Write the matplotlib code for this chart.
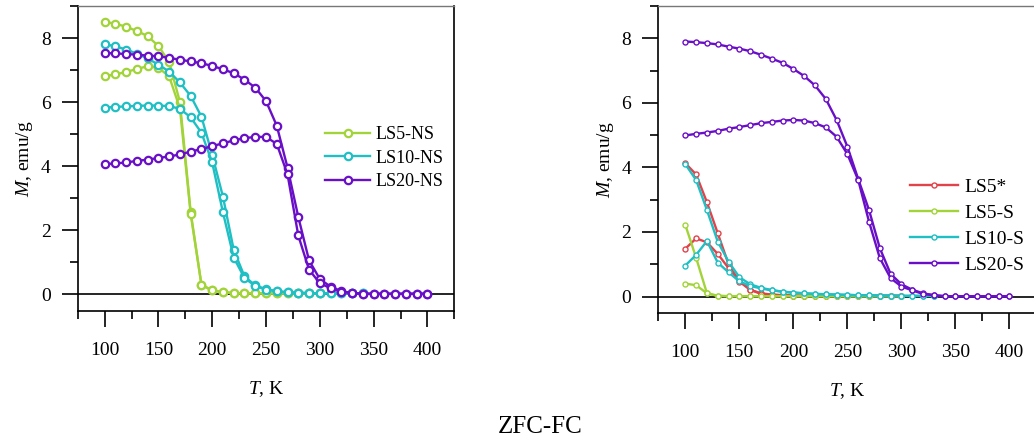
import numpy as np
import matplotlib
matplotlib.use("Agg")
import matplotlib.pyplot as plt
from matplotlib.ticker import MultipleLocator

plt.rcParams['font.family'] = ['Liberation Serif', 'DejaVu Serif']
plt.rcParams['mathtext.fontset'] = 'custom'
plt.rcParams['mathtext.rm'] = 'Liberation Serif'
plt.rcParams['mathtext.it'] = 'Liberation Serif:italic'

# ---------------- data: left panel (non-substituted) ----------------
T_ls5_ns = list(range(100, 310, 10))
fc_ls5_ns = [8.50, 8.45, 8.35, 8.22, 8.06, 7.75, 7.25, 6.00, 2.56, 0.29, 0.11,
             0.06, 0.03, 0.02, 0.02, 0.02, 0.02, 0.02, 0.02, 0.02, 0.02]
zfc_ls5_ns = [6.81, 6.86, 6.94, 7.03, 7.12, 7.07, 6.80, 5.80, 2.50, 0.29, 0.11,
              0.06, 0.03, 0.02, 0.02, 0.02, 0.02, 0.02, 0.02, 0.02, 0.02]

T_ls10_ns = list(range(100, 350, 10))
fc_ls10_ns = [7.81, 7.74, 7.64, 7.51, 7.36, 7.17, 6.95, 6.61, 6.19, 5.54, 4.35,
              3.04, 1.38, 0.55, 0.27, 0.15, 0.09, 0.06, 0.04, 0.03, 0.02, 0.02,
              0.02, 0.02, 0.02]
zfc_ls10_ns = [5.82, 5.85, 5.86, 5.88, 5.89, 5.89, 5.87, 5.79, 5.52, 5.04, 4.11,
               2.55, 1.14, 0.50, 0.25, 0.14, 0.08, 0.05, 0.04, 0.03, 0.02, 0.02,
               0.02, 0.02, 0.02]

T_ls20_ns = list(range(100, 410, 10))
fc_ls20_ns = [7.53, 7.52, 7.50, 7.48, 7.45, 7.43, 7.38, 7.32, 7.27, 7.21, 7.13,
              7.02, 6.90, 6.70, 6.45, 6.03, 5.26, 3.95, 2.41, 1.05, 0.47, 0.23,
              0.09, 0.03, 0.01, 0.01, 0.01, 0.01, 0.01, 0.01, 0.01]
zfc_ls20_ns = [4.06, 4.08, 4.11, 4.16, 4.20, 4.25, 4.30, 4.36, 4.45, 4.53, 4.62,
               4.71, 4.80, 4.87, 4.91, 4.91, 4.69, 3.74, 1.83, 0.76, 0.34, 0.18,
               0.07, 0.03, 0.01, 0.01, 0.01, 0.01, 0.01, 0.01, 0.01]

# ---------------- data: right panel (substituted) ----------------
T_ls5star = list(range(100, 310, 10))
fc_ls5star = [4.13, 3.78, 2.92, 1.96, 1.00, 0.46, 0.21, 0.10, 0.06, 0.04, 0.03,
              0.02, 0.02, 0.02, 0.02, 0.02, 0.02, 0.02, 0.02, 0.02, 0.02]
zfc_ls5star = [1.48, 1.80, 1.68, 1.32, 0.88, 0.50, 0.21, 0.08, 0.05, 0.04, 0.03,
               0.02, 0.02, 0.02, 0.02, 0.02, 0.02, 0.02, 0.02, 0.02, 0.02]

T_ls5_s = list(range(100, 310, 10))
fc_ls5_s = [2.22, 1.20, 0.10, 0.02, 0.01, 0.01, 0.01, 0.01, 0.01, 0.01, 0.01,
            0.01, 0.01, 0.01, 0.01, 0.01, 0.01, 0.01, 0.01, 0.01, 0.01]
zfc_ls5_s = [0.40, 0.35, 0.10, 0.02, 0.01, 0.01, 0.01, 0.01, 0.01, 0.01, 0.01,
             0.01, 0.01, 0.01, 0.01, 0.01, 0.01, 0.01, 0.01, 0.01, 0.01]

T_ls10_s = list(range(100, 340, 10))
fc_ls10_s = [4.10, 3.61, 2.68, 1.70, 1.08, 0.60, 0.38, 0.27, 0.20, 0.15, 0.12,
             0.10, 0.08, 0.07, 0.06, 0.05, 0.04, 0.04, 0.03, 0.03, 0.02, 0.02,
             0.02, 0.02]
zfc_ls10_s = [0.96, 1.29, 1.72, 1.05, 0.75, 0.47, 0.33, 0.25, 0.19, 0.15, 0.12,
              0.10, 0.08, 0.07, 0.06, 0.05, 0.04, 0.04, 0.03, 0.03, 0.02, 0.02,
              0.02, 0.02]

T_ls20_s = list(range(100, 410, 10))
fc_ls20_s = [7.90, 7.88, 7.85, 7.81, 7.74, 7.68, 7.60, 7.49, 7.37, 7.24, 7.05,
             6.83, 6.54, 6.12, 5.47, 4.64, 3.64, 2.68, 1.50, 0.70, 0.38, 0.21,
             0.10, 0.04, 0.01, 0.01, 0.01, 0.01, 0.01, 0.01, 0.01]
zfc_ls20_s = [4.99, 5.04, 5.08, 5.13, 5.20, 5.25, 5.31, 5.37, 5.41, 5.45, 5.47,
              5.45, 5.37, 5.24, 4.95, 4.41, 3.61, 2.32, 1.19, 0.57, 0.31, 0.19,
              0.08, 0.04, 0.01, 0.01, 0.01, 0.01, 0.01, 0.01, 0.01]

GREEN = '#a2d43a'
CYAN = '#1fbfc4'
PURPLE = '#6a0fc8'
RED = '#e2434b'

left_series = [
    ('LS5-NS', T_ls5_ns, fc_ls5_ns, zfc_ls5_ns, GREEN),
    ('LS10-NS', T_ls10_ns, fc_ls10_ns, zfc_ls10_ns, CYAN),
    ('LS20-NS', T_ls20_ns, fc_ls20_ns, zfc_ls20_ns, PURPLE),
]
right_series = [
    ('LS5*', T_ls5star, fc_ls5star, zfc_ls5star, RED),
    ('LS5-S', T_ls5_s, fc_ls5_s, zfc_ls5_s, GREEN),
    ('LS10-S', T_ls10_s, fc_ls10_s, zfc_ls10_s, CYAN),
    ('LS20-S', T_ls20_s, fc_ls20_s, zfc_ls20_s, PURPLE),
]

W, H = 1034, 446
fig = plt.figure(figsize=(W / 100, H / 100), dpi=100)


def px_axes(l, r, t, b):
    return fig.add_axes([l / W, (H - b) / H, (r - l) / W, (b - t) / H])


axL = px_axes(77.7, 454.3, 6, 311.3)
axR = px_axes(658.3, 1036.5, 6, 313.3)


def style(ax, ylim):
    ax.set_xlim(75, 425)
    ax.set_ylim(*ylim)
    ax.axhline(0, color='black', lw=1.2, zorder=1)
    ax.xaxis.set_major_locator(MultipleLocator(50))
    ax.xaxis.set_minor_locator(MultipleLocator(25))
    ax.yaxis.set_major_locator(MultipleLocator(2))
    ax.yaxis.set_minor_locator(MultipleLocator(1))
    ax.tick_params(which='both', direction='out', top=False, right=False,
                   width=1.2, colors='black', labelsize=14)
    ax.tick_params(axis='x', pad=10.8)
    ax.tick_params(axis='y', pad=8)
    ax.tick_params(which='major', length=11.5)
    ax.tick_params(which='minor', length=5.5)
    for s in ['left', 'bottom', 'right']:
        ax.spines[s].set_linewidth(1.2)
    ax.spines['top'].set_color('#777777')
    ax.spines['top'].set_linewidth(1.0)
    ax.set_xlabel('$\\mathit{T}$, K', fontsize=14, labelpad=14.5)
    ax.set_ylabel('$\\mathit{M}$, emu/g', fontsize=14, labelpad=4)


style(axL, (-0.54, 9.0))
style(axR, (-0.52, 9.0))

for name, T, fc, zfc, c in left_series:
    kw = dict(color=c, lw=1.7, marker='o', ms=5.3, mfc='white', mec=c, mew=1.6)
    axL.plot(T, fc, label=name, **kw)
    axL.plot(T, zfc, **kw)

for name, T, fc, zfc, c in right_series:
    kw = dict(color=c, lw=1.7, marker='o', ms=3.6, mfc='white', mec=c, mew=1.0)
    axR.plot(T, fc, label=name, **kw)
    axR.plot(T, zfc, **kw)

legL = axL.legend(loc='upper left', bbox_to_anchor=((333 - 77.7) / (454.3 - 77.7) - 0.02, 1 - (126 - 6) / 305.3),
                  frameon=False, fontsize=13, handlelength=2.45, handletextpad=0.3,
                  labelspacing=0.37, borderpad=0.0, borderaxespad=0.0, markerscale=1.0)
legR = axR.legend(loc='upper left', bbox_to_anchor=((918 - 658.3) / (1036.5 - 658.3) - 0.02, 1 - (178 - 6) / 307.3),
                  frameon=False, fontsize=14, handlelength=2.45, handletextpad=0.3,
                  labelspacing=0.44, borderpad=0.0, borderaxespad=0.0)

fig.text(540 / W, 1 - 427 / H, 'ZFC-FC', fontsize=18, ha='center', va='center')

fig.savefig('out.png', dpi=100)
